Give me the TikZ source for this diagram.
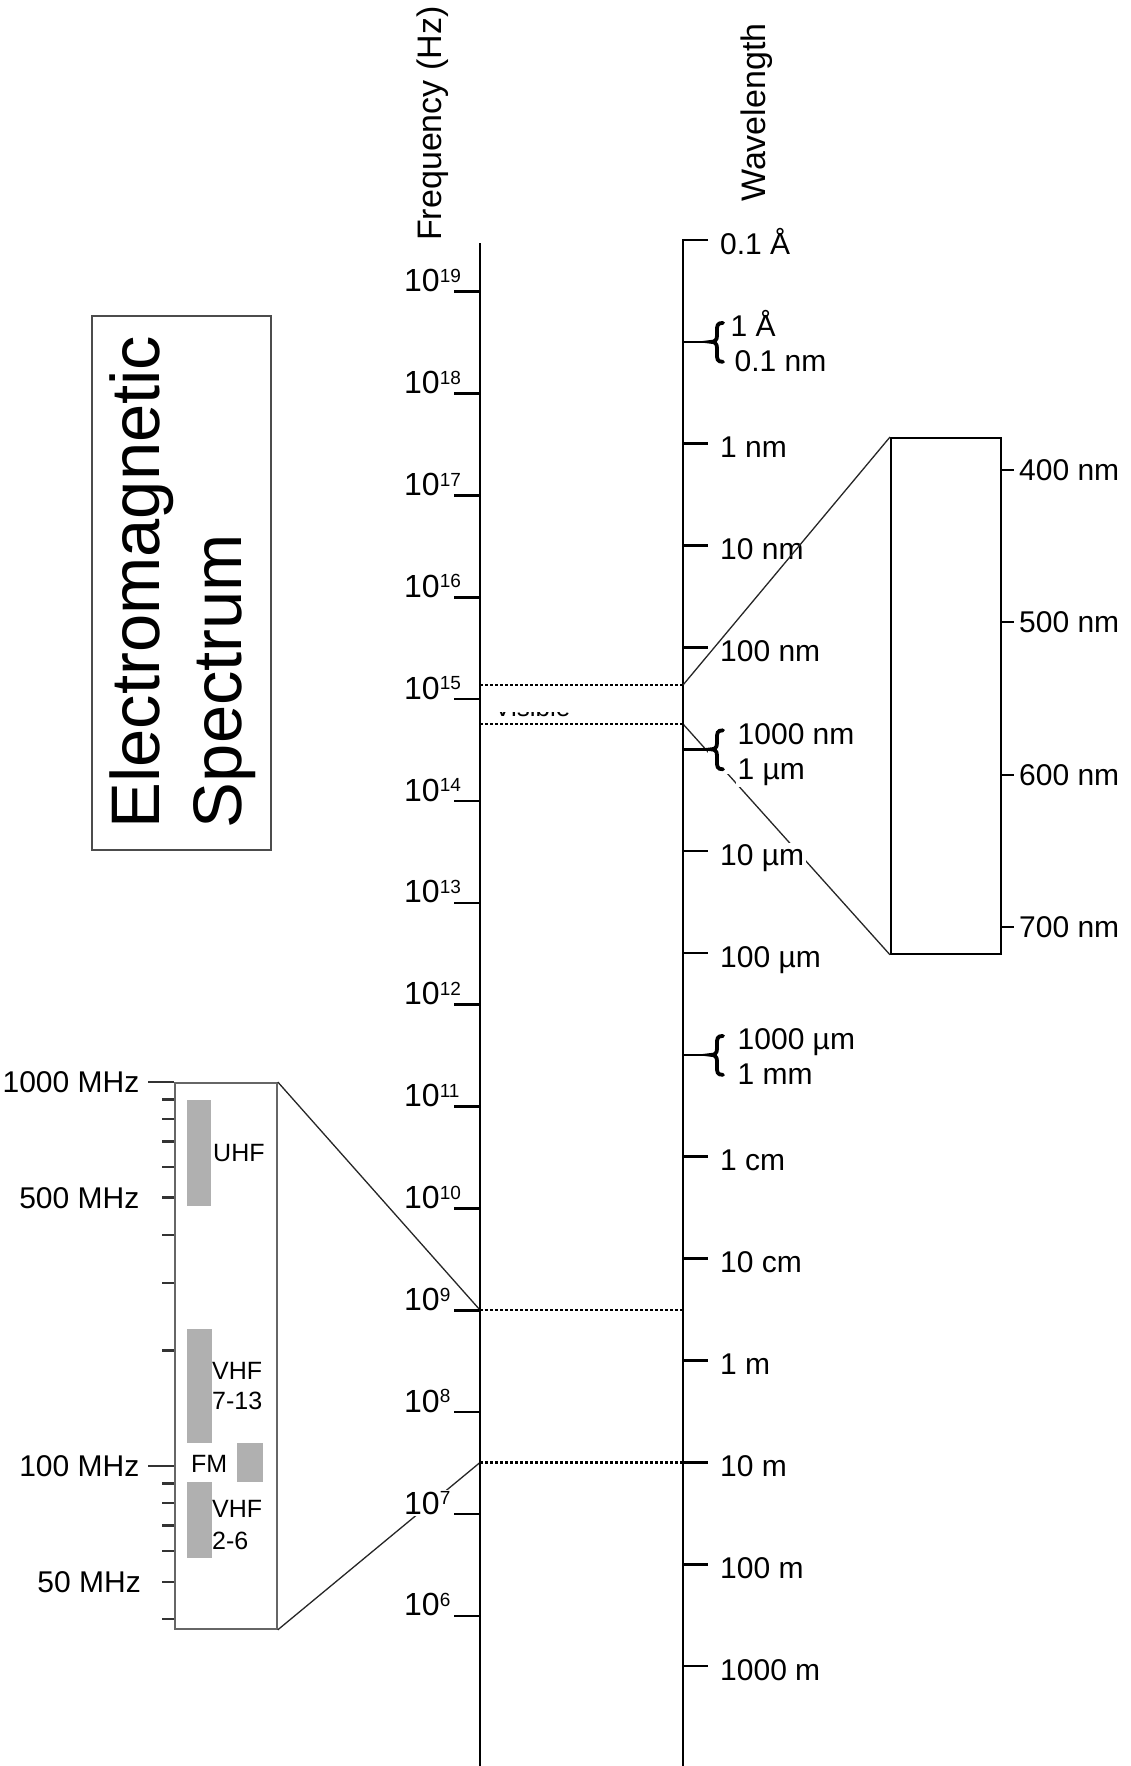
\documentclass[tikz,border=0pt]{standalone}
\usepackage{fontspec}
\setmainfont{Liberation Sans}
\newcommand\supx[1]{\raisebox{9.3pt}{\fontsize{19}{19}\selectfont #1}}
\newcommand\wbrace[1]{%
  \draw[line width=3.8pt, line cap=round]
    (723,{#1-19}) .. controls (717,{#1-19}) and (717,{#1-16}) .. (717,{#1-11})
    -- (717,{#1-6}) .. controls (717,{#1-1.5}) and (714.5,{#1}) .. (711,{#1})
    .. controls (714.5,{#1}) and (717,{#1+1.5}) .. (717,{#1+6})
    -- (717,{#1+12}) .. controls (717,{#1+17}) and (717,{#1+20}) .. (723,{#1+20});}
\begin{document}
\begin{tikzpicture}[x=1pt,y=-1pt,
  axis/.style={line width=2.6pt, line cap=butt},
  tk/.style={line width=2.6pt},
  lbl/.style={font=\fontsize{30}{35}\selectfont, inner sep=0pt},
  flbl/.style={font=\fontsize{32}{36}\selectfont, fill=white, inner sep=2pt, anchor=base west},
  wlbl/.style={lbl, fill=white, inner sep=1.5pt, anchor=base west},
  dotl/.style={line width=2.6pt, dash pattern=on 2.6pt off 2.4pt},
  slant/.style={line width=1.3pt, draw=black!85},
  bar/.style={fill=black!31},
  small/.style={font=\fontsize{25}{30}\selectfont, inner sep=0pt, anchor=base west},
  rtk/.style={line width=2.2pt, draw=black!80},
]
\useasboundingbox (0,0) rectangle (1131,1766);
\fill[white] (0,0) rectangle (1131,1766);

% ---------- boxes ----------
\node[draw=black!70, line width=1.6pt, anchor=north west, inner sep=0pt,
      minimum width=179pt, minimum height=534pt] (title) at (91,315) {};
\node[draw=black, line width=1.8pt, anchor=north west, inner sep=0pt,
      minimum width=110pt, minimum height=516pt] (vis) at (890,437) {};
\node[draw=black!60, line width=1.8pt, anchor=north west, inner sep=0pt,
      minimum width=102pt, minimum height=546pt] (radio) at (174,1082) {};

% ---------- coordinates on the axes ----------
\coordinate (ftop) at (480,243);
\coordinate (fbot) at (480,1766);
\coordinate (wtopr) at (708,240);
\coordinate (wtop) at (683,240);
\coordinate (wbot) at (683,1766);
\coordinate (fA) at (480,685);   \coordinate (wA) at (683,685);
\coordinate (fB) at (480,724);   \coordinate (wB) at (683,724);
\coordinate (fC) at (480,1310);  \coordinate (wC) at (683,1310);
\coordinate (fD) at (480,1462.5);\coordinate (wD) at (683,1462.5);

% ---------- slanted connectors (under labels) ----------
\draw[slant] (radio.north east) -- (fC);
\draw[slant] (radio.south east) -- (fD);
\draw[slant] (wB) -- (vis.south west);

% ---------- dotted lines ----------
\draw[dotl] (fA) -- (wA);
\draw[dotl] (fB) -- (wB);
\draw[dotl] (fC) -- (wC);
\draw[dotl] (fD) -- (wD);

% partly hidden "Visible"
\begin{scope}
  \clip (485,712.5) rectangle (600,717.5);
  \node[font=\fontsize{26}{30}\selectfont, inner sep=0pt, anchor=base west] (vislab) at (494,716.5) {Visible};
\end{scope}

% ---------- frequency labels ----------
\foreach \n in {19,18,...,6} {
  \pgfmathsetmacro\yy{291.7+(19-\n)*101.86}
  \coordinate (f\n) at (480,\yy);
  \node[flbl] (fl\n) at (402,\yy) {10\supx{\n}};
}

% ---------- wavelength labels ----------
\foreach \k/\t in {0/0.1 Å,2/1 nm,3/10 nm,4/100 nm,6/10 µm,7/100 µm,9/1 cm,10/10 cm,11/1 m,12/10 m,13/100 m,14/1000 m} {
  \pgfmathsetmacro\yy{240+\k*101.86}
  \node[wlbl] (wl\k) at (718.5,\yy+14) {\t};
}
\foreach \k in {0,...,14} {
  \pgfmathsetmacro\yy{240+\k*101.86}
  \coordinate (w\k) at (683,\yy);
}
% braced labels
\foreach \k/\ta/\tb/\xa/\xb in {1/1 Å/0.1 nm/729/733, 5/1000 nm/1 µm/736/736, 8/1000 µm/1 mm/736/736} {
  \pgfmathsetmacro\yy{240+\k*101.86}
  \fill[white] (708,\yy-25) rectangle (734,\yy+25);
  \node[lbl, fill=white, inner sep=1.5pt, anchor=base west] (wa\k) at (\xa,\yy-5) {\ta};
  \node[lbl, fill=white, inner sep=1.5pt, anchor=base west] (wb\k) at (\xb,\yy+30) {\tb};
  \wbrace{\yy}
}

% ---------- axes and ticks ----------
\draw[axis] (ftop) -- (fbot);
\draw[axis, line join=miter] (wtopr) -- (wtop) -- (wbot);
\foreach \n in {19,18,...,6} \draw[tk] (f\n) -- ++(-26,0);
\foreach \k in {1,...,14} \draw[tk] (w\k) -- ++(25,0);

% upper connector to visible box (over labels)
\draw[slant] (wA) -- (vis.north west);

% ---------- axis titles ----------
\node[rotate=90, anchor=base west, inner sep=0pt, font=\fontsize{34}{38}\selectfont] (freqt) at (441,241) {Frequency (Hz)};
\node[rotate=90, anchor=base west, inner sep=0pt, font=\fontsize{34}{38}\selectfont] (wavet) at (765,202) {Wavelength};

% ---------- title ----------
\node[rotate=90, anchor=base west, inner sep=0pt, font=\fontsize{68.7}{80}\selectfont] (t1) at (159.3,828.5) {Electromagnetic};
\node[rotate=90, anchor=base west, inner sep=0pt, font=\fontsize{68.7}{80}\selectfont] (t2) at (241.7,828.2) {Spectrum};

% ---------- visible box scale ----------
\foreach \y/\l in {470/400,622/500,775/600,927/700} {
  \coordinate (v\l) at (1000,\y);
  \draw[line width=2.2pt] (v\l) -- ++(14,0);
  \node[lbl, anchor=base west] (vl\l) at (1019,\y+10.7) {\l\ nm};
}

% ---------- radio box scale ----------
\foreach \f in {900,800,700,600,500,400,300,200,90,80,70,60,50,40} {
  \pgfmathsetmacro\yy{1082+384*log10(1000/\f)}
  \coordinate (r\f) at (174,\yy);
  \draw[rtk] (r\f) -- ++(-12,0);
}
\coordinate (r1000) at (174,1082);
\coordinate (r100) at (174,1466);
\draw[rtk] (r1000) -- ++(-26,0);
\draw[rtk] (r100) -- ++(-26,0);
\node[lbl, anchor=base east] (m1000) at (139.5,1082+10.7) {1000 MHz};
\node[lbl, anchor=base east] (m500) at (139.5,1197.6+10.7) {500 MHz};
\node[lbl, anchor=base east] (m100) at (139.5,1466+10.7) {100 MHz};
\node[lbl, anchor=base east] (m50) at (141,1581.6+10.7) {50 MHz};

% bands
\fill[bar] (187,1100) rectangle (211,1206);
\fill[bar] (187,1329) rectangle (212,1443);
\fill[bar] (237,1443) rectangle (263,1482);
\fill[bar] (187,1482) rectangle (212,1558);
\node[small] (uhf) at (213,1161) {UHF};
\node[small] (vhf1) at (212,1379) {VHF};
\node[small] (vhf1b) at (212,1409) {7-13};
\node[small] (fm) at (191,1472) {FM};
\node[small] (vhf2) at (212,1517) {VHF};
\node[small] (vhf2b) at (212,1549) {2-6};
\end{tikzpicture}
\end{document}
